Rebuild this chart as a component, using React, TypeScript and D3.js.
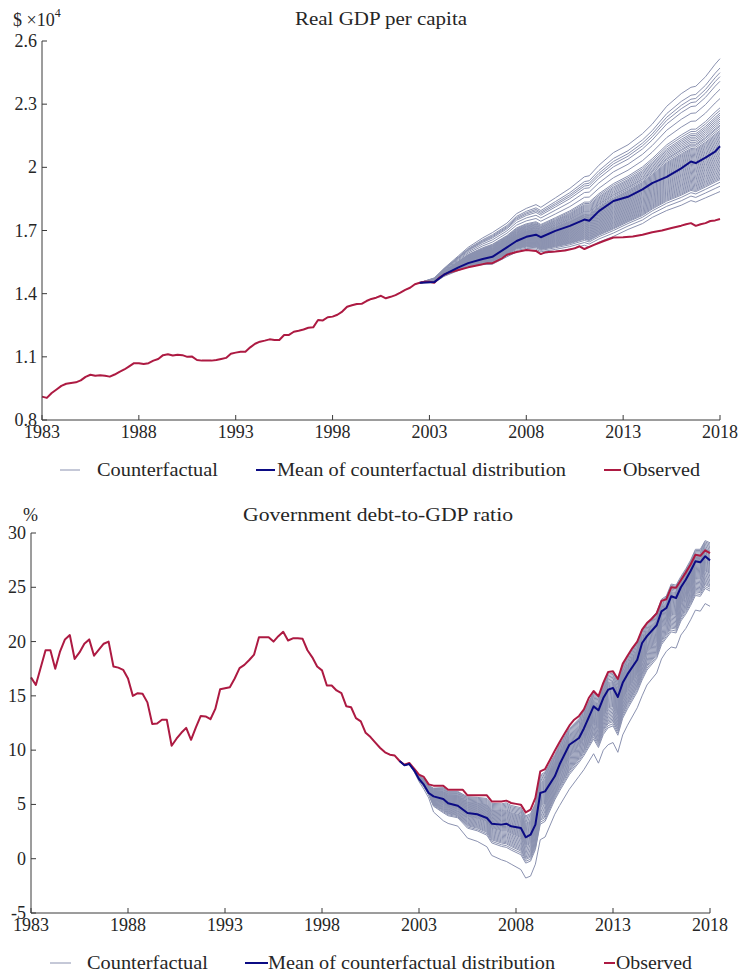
import React from "react";
import * as d3 from "d3";

const FONT = "'Liberation Serif', 'Times New Roman', serif";
const INK = "#262626";
const AXIS = "#3a3a3a";
const CF_COLOR = "#8b92b0";
const MEAN_COLOR = "#0b0b84";
const OBS_COLOR = "#ad1a42";

const yearTicks = [1983, 1988, 1993, 1998, 2003, 2008, 2013, 2018];

// Real GDP per capita (x 10^4 $)
const gdpTicks = [0.8, 1.1, 1.4, 1.7, 2.0, 2.3, 2.6];
const gdpTickLabels = ["0.8", "1.1", "1.4", "1.7", "2", "2.3", "2.6"];

const gdpObserved: [number, number][] = [
  [1983, 0.911], [1983.25, 0.905], [1983.5, 0.928], [1983.75, 0.945], [1984, 0.962],
  [1984.25, 0.972], [1984.5, 0.976], [1984.75, 0.979], [1985, 0.988], [1985.25, 1.005],
  [1985.5, 1.015], [1985.75, 1.01], [1986, 1.012], [1986.25, 1.01], [1986.5, 1.006],
  [1986.75, 1.016], [1987, 1.029], [1987.25, 1.04], [1987.5, 1.055], [1987.75, 1.07],
  [1988, 1.07], [1988.25, 1.066], [1988.5, 1.07], [1988.75, 1.082], [1989, 1.09],
  [1989.25, 1.108], [1989.5, 1.112], [1989.75, 1.106], [1990, 1.11], [1990.25, 1.108],
  [1990.5, 1.1], [1990.75, 1.101], [1991, 1.085], [1991.25, 1.082], [1991.5, 1.082],
  [1991.75, 1.082], [1992, 1.085], [1992.25, 1.09], [1992.5, 1.095], [1992.75, 1.115],
  [1993, 1.12], [1993.25, 1.124], [1993.5, 1.124], [1993.75, 1.145], [1994, 1.162],
  [1994.25, 1.172], [1994.5, 1.177], [1994.75, 1.183], [1995, 1.18], [1995.25, 1.18],
  [1995.5, 1.204], [1995.75, 1.204], [1996, 1.219], [1996.25, 1.224], [1996.5, 1.23],
  [1996.75, 1.238], [1997, 1.24], [1997.25, 1.275], [1997.5, 1.273], [1997.75, 1.288],
  [1998, 1.291], [1998.25, 1.3], [1998.5, 1.315], [1998.75, 1.338], [1999, 1.345],
  [1999.25, 1.351], [1999.5, 1.352], [1999.75, 1.365], [2000, 1.375], [2000.25, 1.381],
  [2000.5, 1.39], [2000.75, 1.378], [2001, 1.385], [2001.25, 1.393], [2001.5, 1.405],
  [2001.75, 1.418], [2002, 1.428], [2002.25, 1.445], [2002.5, 1.452], [2002.75, 1.457],
  [2003, 1.457], [2003.25, 1.452], [2003.5, 1.475], [2003.75, 1.49], [2004, 1.5],
  [2004.5, 1.512], [2005, 1.525], [2005.5, 1.535], [2006, 1.545], [2006.25, 1.545],
  [2006.75, 1.568], [2007, 1.585], [2007.5, 1.598], [2008, 1.607], [2008.25, 1.605],
  [2008.5, 1.603], [2008.75, 1.588], [2009, 1.597], [2009.5, 1.6], [2010, 1.605],
  [2010.5, 1.615], [2010.75, 1.625], [2011, 1.612], [2011.5, 1.632], [2012, 1.65],
  [2012.5, 1.667], [2013, 1.668], [2013.5, 1.672], [2014, 1.68], [2014.5, 1.692],
  [2015, 1.7], [2015.5, 1.712], [2016, 1.723], [2016.25, 1.73], [2016.5, 1.735],
  [2016.75, 1.722], [2017, 1.73], [2017.25, 1.735], [2017.5, 1.745], [2017.75, 1.748],
  [2018, 1.755],
];

const gdpCfYears = [
  2002.5, 2003.25, 2003.75, 2004.5, 2005, 2005.75, 2006.25, 2007, 2007.5, 2008, 2008.5,
  2008.75, 2009.5, 2010.25, 2011, 2011.25, 2011.75, 2012.5, 2013.25, 2014, 2014.5,
  2015.25, 2016, 2016.5, 2016.75, 2017.25, 2017.75, 2018,
];
const gdpCfMean = [
  1.452, 1.455, 1.49, 1.525, 1.545, 1.565, 1.575, 1.62, 1.65, 1.67, 1.68, 1.668, 1.698,
  1.722, 1.752, 1.746, 1.792, 1.84, 1.86, 1.895, 1.925, 1.955, 1.995, 2.028, 2.02, 2.046,
  2.075, 2.1,
];
const gdpCfHigh = [
  1.452, 1.475, 1.52, 1.58, 1.62, 1.665, 1.69, 1.735, 1.78, 1.805, 1.823, 1.81, 1.855,
  1.9, 1.955, 1.96, 2.01, 2.07, 2.107, 2.16, 2.205, 2.29, 2.35, 2.38, 2.385, 2.43, 2.49,
  2.516,
];
const gdpCfLow = [
  1.452, 1.452, 1.482, 1.51, 1.528, 1.538, 1.54, 1.575, 1.598, 1.607, 1.603, 1.59, 1.6,
  1.612, 1.63, 1.622, 1.645, 1.672, 1.705, 1.733, 1.762, 1.795, 1.82, 1.842, 1.835, 1.855,
  1.875, 1.885,
];
// position of each counterfactual draw inside the band (0 = lowest, 1 = highest)
const gdpSpread = [
  0, 0.04, 0.07, 0.09, 0.1, 0.11, 0.12, 0.13, 0.14, 0.15, 0.16, 0.17, 0.18, 0.19, 0.2,
  0.21, 0.22, 0.23, 0.24, 0.25, 0.26, 0.27, 0.28, 0.29, 0.3, 0.31, 0.32, 0.33, 0.34, 0.35,
  0.36, 0.37, 0.38, 0.39, 0.4, 0.41, 0.42, 0.43, 0.44, 0.45, 0.46, 0.475, 0.49, 0.5,
  0.515, 0.53, 0.545, 0.56, 0.575, 0.59, 0.61, 0.63, 0.7, 0.77, 0.83, 0.865, 0.895, 0.93,
  1,
];

// Government debt-to-GDP ratio (%)
const debtTicks = [-5, 0, 5, 10, 15, 20, 25, 30];
const debtTickLabels = ["-5", "0", "5", "10", "15", "20", "25", "30"];

const debtObserved: [number, number][] = [
  [1983, 16.7], [1983.25, 16.0], [1983.75, 19.2], [1984, 19.2], [1984.25, 17.5],
  [1984.5, 19.1], [1984.75, 20.2], [1985, 20.6], [1985.25, 18.4], [1985.5, 19.0],
  [1985.75, 19.8], [1986, 20.2], [1986.25, 18.7], [1986.5, 19.25], [1986.75, 19.8],
  [1987, 20.0], [1987.25, 17.7], [1987.5, 17.6], [1987.75, 17.4], [1988, 16.6],
  [1988.25, 15.0], [1988.5, 15.25], [1988.75, 15.2], [1989, 14.4], [1989.25, 12.4],
  [1989.5, 12.45], [1989.75, 12.8], [1990, 12.8], [1990.25, 10.4], [1990.5, 11.05],
  [1990.75, 11.6], [1991, 12.05], [1991.25, 10.95], [1991.5, 12.1], [1991.75, 13.15],
  [1992, 13.1], [1992.25, 12.85], [1992.5, 13.8], [1992.75, 15.6], [1993, 15.7],
  [1993.25, 15.8], [1993.5, 16.6], [1993.75, 17.55], [1994, 17.85], [1994.25, 18.3],
  [1994.5, 18.8], [1994.75, 20.4], [1995, 20.4], [1995.25, 20.4], [1995.5, 20.0],
  [1995.75, 20.5], [1996, 20.9], [1996.25, 20.1], [1996.5, 20.3], [1996.75, 20.3],
  [1997, 20.25], [1997.25, 19.2], [1997.5, 18.55], [1997.75, 17.7], [1998, 17.35],
  [1998.25, 15.95], [1998.5, 15.95], [1998.75, 15.5], [1999, 15.25], [1999.25, 14.05],
  [1999.5, 13.95], [1999.75, 12.95], [2000, 12.65], [2000.25, 11.6], [2000.5, 11.2],
  [2000.75, 10.7], [2001, 10.2], [2001.25, 9.8], [2001.5, 9.58], [2001.75, 9.5],
  [2002, 9.0], [2002.25, 8.66], [2002.5, 8.82], [2002.75, 8.3], [2003, 7.74],
  [2003.25, 7.53], [2003.5, 6.85], [2003.75, 6.73], [2004, 6.73], [2004.25, 6.73],
  [2004.5, 6.36], [2004.75, 6.36], [2005, 6.36], [2005.25, 6.36], [2005.5, 5.84],
  [2005.75, 5.84], [2006, 5.84], [2006.25, 5.84], [2006.5, 5.84], [2006.75, 5.28],
  [2007, 5.28], [2007.25, 5.28], [2007.5, 5.35], [2007.75, 5.13], [2008, 5.05],
  [2008.25, 4.98], [2008.5, 4.27], [2008.75, 4.52], [2009, 5.6], [2009.25, 8.05],
  [2009.5, 8.26], [2009.75, 9.1], [2010, 9.95], [2010.25, 10.75], [2010.5, 11.5],
  [2010.75, 12.25], [2011, 12.8], [2011.25, 13.15], [2011.5, 13.75], [2011.75, 14.8],
  [2012, 15.45], [2012.25, 14.96], [2012.5, 16.2], [2012.75, 17.2], [2013, 17.26],
  [2013.25, 16.55], [2013.5, 17.95], [2013.75, 18.7], [2014, 19.4], [2014.25, 20.0],
  [2014.5, 21.1], [2014.75, 21.7], [2015, 22.1], [2015.25, 22.6], [2015.5, 23.75],
  [2015.75, 23.9], [2016, 25.0], [2016.25, 24.95], [2016.5, 25.65], [2016.75, 26.35],
  [2017, 27.1], [2017.25, 28.0], [2017.5, 27.9], [2017.75, 28.4], [2018, 28.15],
];

const debtCfYears = [
  2002, 2002.25, 2002.5, 2002.75, 2003, 2003.25, 2003.5, 2003.75, 2004.25, 2004.5, 2005,
  2005.5, 2006, 2006.5, 2006.75, 2007.25, 2007.5, 2007.75, 2008.25, 2008.5, 2008.75, 2009,
  2009.25, 2009.5, 2010, 2010.25, 2010.75, 2011.25, 2011.5, 2012, 2012.25, 2012.5,
  2012.75, 2013, 2013.25, 2013.5, 2013.75, 2014.25, 2014.5, 2014.75, 2015.25, 2015.5,
  2015.75, 2016, 2016.25, 2016.5, 2016.75, 2017, 2017.25, 2017.5, 2017.75, 2018,
];
const debtCfMean = [
  9.0, 8.6, 8.72, 8.14, 7.34, 6.82, 6.05, 5.74, 5.5, 5.1, 4.88, 4.21, 4.1, 3.75, 3.23,
  3.14, 3.23, 2.98, 2.83, 1.97, 2.21, 3.14, 6.05, 6.2, 7.59, 8.7, 10.5, 11.12, 12.0,
  14.03, 13.67, 14.8, 15.57, 15.72, 14.89, 16.2, 17.0, 18.33, 19.87, 20.5, 21.5, 22.78,
  23.09, 24.17, 24.01, 25.0, 25.7, 26.5, 27.39, 27.3, 27.85, 27.48,
];
const debtCfHigh = [
  9.0, 8.66, 8.8, 8.25, 7.65, 7.35, 6.75, 6.5, 6.55, 6.2, 6.2, 5.7, 5.65, 5.55, 5.1,
  5.05, 5.15, 4.9, 4.7, 3.95, 4.15, 5.1, 7.7, 8.0, 9.6, 10.5, 12.0, 12.9, 13.6, 15.3,
  14.8, 16.0, 17.0, 17.1, 16.35, 17.8, 18.6, 20.0, 21.1, 21.7, 22.7, 23.9, 24.2, 25.3,
  25.2, 26.0, 26.7, 27.5, 28.5, 28.5, 29.3, 29.1,
];
const debtCfLow = [
  9.0, 8.6, 8.7, 8.0, 7.1, 6.4, 5.6, 4.3, 3.5, 3.25, 3.0, 1.9, 1.6, 1.1, 0.3, -0.1,
  -0.25, -0.5, -1.0, -1.78, -1.6, -0.5, 1.75, 2.0, 4.1, 4.9, 6.4, 7.6, 8.2, 9.67, 8.8,
  10.0, 10.5, 10.7, 9.8, 11.4, 12.3, 13.9, 15.0, 16.0, 17.1, 18.4, 19.1, 19.5, 19.4, 20.6,
  21.2, 22.0, 22.9, 22.8, 23.5, 23.25,
];
const debtSpread = [
  0, 0.24, 0.27, 0.3, 0.32, 0.34, 0.36, 0.38, 0.4, 0.42, 0.44, 0.46, 0.48, 0.5, 0.52,
  0.535, 0.55, 0.565, 0.58, 0.595, 0.61, 0.625, 0.64, 0.655, 0.67, 0.685, 0.7, 0.715,
  0.73, 0.745, 0.76, 0.775, 0.79, 0.805, 0.82, 0.835, 0.85, 0.865, 0.88, 0.9, 0.92, 0.94,
  0.96, 0.98, 1,
];

const legendLabels = ["Counterfactual", "Mean of counterfactual distribution", "Observed"];

type PanelProps = {
  left: number;
  right: number;
  top: number;
  bottom: number;
  yDomain: [number, number];
  yTicks: number[];
  yTickLabels: string[];
  observed: [number, number][];
  cfYears: number[];
  cfMean: number[];
  cfHigh: number[];
  cfLow: number[];
  spread: number[];
};

const Panel: React.FC<PanelProps> = ({
  left, right, top, bottom, yDomain, yTicks, yTickLabels, observed,
  cfYears, cfMean, cfHigh, cfLow, spread,
}) => {
  const x = d3.scaleLinear().domain([1983, 2018]).range([left, right]);
  const y = d3.scaleLinear().domain(yDomain).range([bottom, top]);
  const line = d3
    .line<[number, number]>()
    .x((d) => x(d[0]))
    .y((d) => y(d[1]));

  const draws = spread.map((f) =>
    cfYears.map((yr, i) => [yr, cfLow[i] + f * (cfHigh[i] - cfLow[i])] as [number, number])
  );
  const mean = cfYears.map((yr, i) => [yr, cfMean[i]] as [number, number]);

  return (
    <g>
      {draws.map((d, i) => (
        <path key={i} d={line(d) || ""} fill="none" stroke={CF_COLOR} strokeWidth={1} />
      ))}
      <path d={line(observed) || ""} fill="none" stroke={OBS_COLOR} strokeWidth={2} strokeLinejoin="round" />
      <path d={line(mean) || ""} fill="none" stroke={MEAN_COLOR} strokeWidth={2} strokeLinejoin="round" />

      <line x1={left} y1={top} x2={left} y2={bottom} stroke={AXIS} strokeWidth={1} />
      <line x1={left} y1={bottom} x2={right} y2={bottom} stroke={AXIS} strokeWidth={1} />
      {yTicks.map((t, i) => (
        <g key={t}>
          <line x1={left} x2={left + 5} y1={y(t)} y2={y(t)} stroke={AXIS} />
          <text x={left - 5} y={y(t) + 6} textAnchor="end" fontSize={18} fill={INK}>
            {yTickLabels[i]}
          </text>
        </g>
      ))}
      {yearTicks.map((t) => (
        <g key={t}>
          <line x1={x(t)} x2={x(t)} y1={bottom} y2={bottom - 5} stroke={AXIS} />
          <text x={x(t)} y={bottom + 18} textAnchor="middle" fontSize={18} fill={INK}>
            {t}
          </text>
        </g>
      ))}
    </g>
  );
};

type LegendProps = { y: number; items: { x1: number; x2: number; tx: number; w: number }[] };

const Legend: React.FC<LegendProps> = ({ y, items }) => {
  const colors = [CF_COLOR, MEAN_COLOR, OBS_COLOR];
  const widths = [1, 2, 2];
  return (
    <g>
      {items.map((it, i) => (
        <g key={i}>
          <line x1={it.x1} x2={it.x2} y1={y} y2={y} stroke={colors[i]} strokeWidth={widths[i]} />
          <text x={it.tx} y={y + 6} fontSize={18} fill={INK} textLength={it.w} lengthAdjust="spacingAndGlyphs">
            {legendLabels[i]}
          </text>
        </g>
      ))}
    </g>
  );
};

export default function App() {
  return (
    <svg
      width={739}
      height={973}
      style={{ position: "absolute", left: 0, top: 0, background: "#fff" }}
      fontFamily={FONT}
    >
      {/* top panel */}
      <text x={13} y={26} fontSize={18} fill={INK}>
        $ ×10
        <tspan fontSize={12} dy={-9}>4</tspan>
      </text>
      <text x={295} y={25} fontSize={18} fill={INK} textLength={172} lengthAdjust="spacingAndGlyphs">
        Real GDP per capita
      </text>
      <Panel
        left={42}
        right={720}
        top={41}
        bottom={420}
        yDomain={[0.8, 2.6]}
        yTicks={gdpTicks}
        yTickLabels={gdpTickLabels}
        observed={gdpObserved}
        cfYears={gdpCfYears}
        cfMean={gdpCfMean}
        cfHigh={gdpCfHigh}
        cfLow={gdpCfLow}
        spread={gdpSpread}
      />
      <Legend
        y={470}
        items={[
          { x1: 60, x2: 80, tx: 97, w: 121 },
          { x1: 256, x2: 275, tx: 277, w: 289 },
          { x1: 604, x2: 621, tx: 623, w: 77 },
        ]}
      />

      {/* bottom panel */}
      <text x={23} y={521} fontSize={18} fill={INK}>%</text>
      <text x={243} y={521} fontSize={18} fill={INK} textLength={270} lengthAdjust="spacingAndGlyphs">
        Government debt-to-GDP ratio
      </text>
      <Panel
        left={31}
        right={710}
        top={533}
        bottom={913}
        yDomain={[-5, 30]}
        yTicks={debtTicks}
        yTickLabels={debtTickLabels}
        observed={debtObserved}
        cfYears={debtCfYears}
        cfMean={debtCfMean}
        cfHigh={debtCfHigh}
        cfLow={debtCfLow}
        spread={debtSpread}
      />
      <Legend
        y={963}
        items={[
          { x1: 50, x2: 71, tx: 87, w: 121 },
          { x1: 245, x2: 268, tx: 268, w: 287 },
          { x1: 604, x2: 615, tx: 616, w: 76 },
        ]}
      />
    </svg>
  );
}
